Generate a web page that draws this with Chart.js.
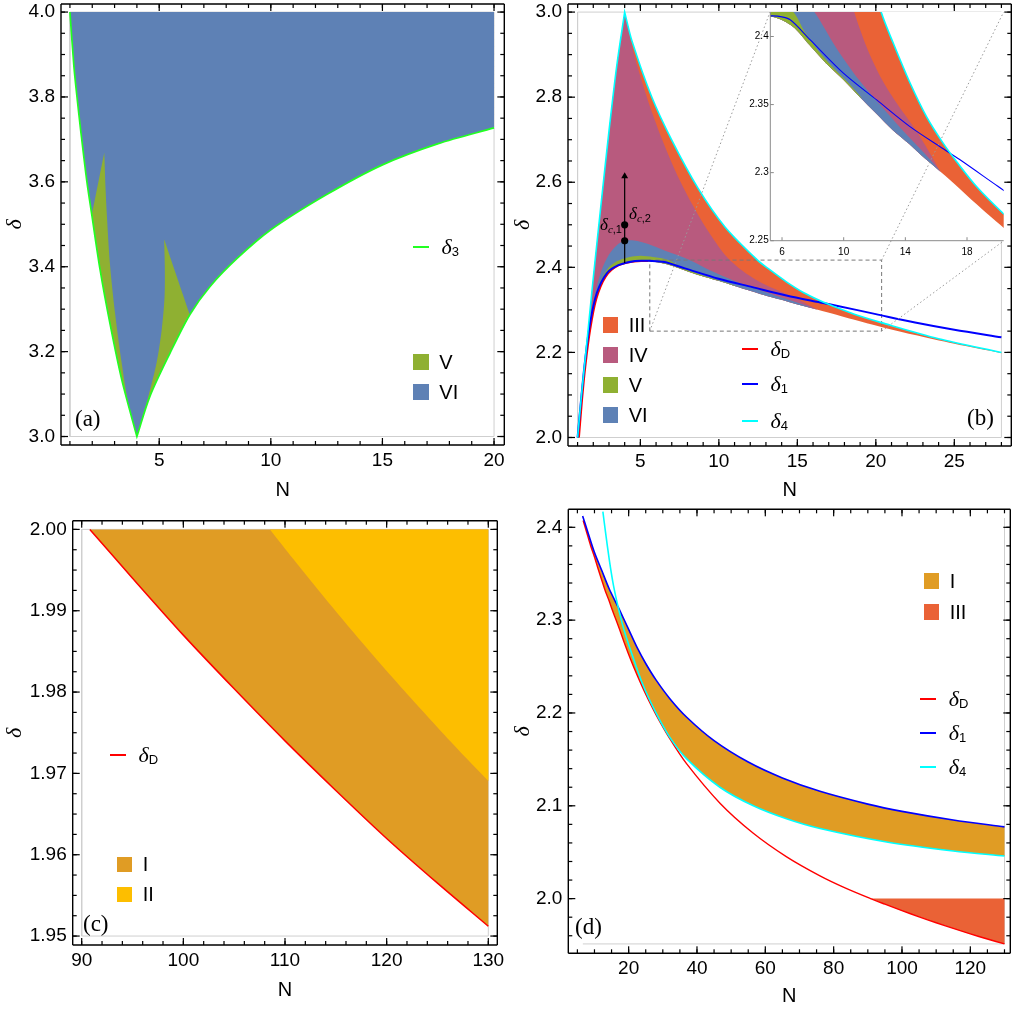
<!DOCTYPE html>
<html>
<head>
<meta charset="utf-8">
<script src="https://cdn.jsdelivr.net/npm/chart.js@4.4.0/dist/chart.umd.min.js"></script>
<style>
  body { margin: 0; background: #fff; }
  #page { position: relative; width: 1014px; height: 1011px; overflow: hidden; font-family: 'Liberation Sans', Arial, sans-serif; }
  canvas { position: absolute; }
  .tx, .dl, .pl, .dc { position: absolute; white-space: nowrap; line-height: 1; color: #000; }
  .tx { font-size: 20px; }
  .dl { font-size: 22px; }
  .dl i, .dc i { font-family: 'Liberation Serif', serif; font-style: italic; }
  .dl sub { font-size: 13px; vertical-align: -2px; }
  .dc { font-size: 17px; }
  .dc sub { font-size: 11px; vertical-align: -3px; }
  .pl { font-family: 'Liberation Serif', serif; font-size: 23px; }
  .sw { position: absolute; width: 15.5px; height: 15.5px; }
  .ln { position: absolute; width: 16px; height: 2px; }
</style>
</head>
<body>
<div id="page">
  <canvas id="chartA" width="507" height="505" style="left:0;top:0"></canvas>
  <canvas id="chartB" width="507" height="505" style="left:507px;top:0"></canvas>
  <canvas id="chartInset" width="272" height="262" style="left:740px;top:0"></canvas>
  <canvas id="chartGhost" width="507" height="505" style="left:507px;top:0"></canvas>
  <canvas id="chartC" width="507" height="506" style="left:0;top:505px"></canvas>
  <canvas id="chartD" width="507" height="506" style="left:507px;top:505px"></canvas>
</div>
<script>
// ---------- panel (a) ----------
const aAxisN = [0.6, 20.46]
const aAxisD = [2.98, 4.019]
const aRangeN = [1, 20]
const aRangeD = [3, 4]
const aTicksN = [5, 10, 15, 20]
const aTicksD = [3.0, 3.2, 3.4, 3.6, 3.8, 4.0]
const aD3LeftN = [1, 1.18, 1.33, 1.48, 1.75, 1.98, 2.35, 2.79, 3.32, 4]
const aD3LeftD = [4, 3.871, 3.793, 3.722, 3.604, 3.522, 3.393, 3.267, 3.134, 3]
const aD3RightN = [4, 4.58, 5.48, 6.37, 7.27, 8.5, 10, 12.5, 15, 17.5, 20]
const aD3RightD = [3, 3.094, 3.196, 3.287, 3.353, 3.42, 3.487, 3.57, 3.64, 3.69, 3.727]
const aV1N = [2.54, 2.6, 2.65, 2.79, 3.02, 3.32, 3.61, 3.91, 4]
const aV1D = [3.669, 3.58, 3.526, 3.408, 3.291, 3.173, 3.079, 3.016, 3]
const aV2LeftN = [5.22, 5.25, 5.24, 5.11, 4.88, 4.51, 4.21, 4]
const aV2LeftD = [3.465, 3.4, 3.33, 3.251, 3.173, 3.094, 3.039, 3]

// ---------- curves shared by (b), (c), (d) ----------
const dDN = [1.1, 1.3, 1.5, 1.8, 2.2, 2.8, 3.6, 4.6, 5.5, 6.69, 7.77, 8.85, 9.98, 11.01, 12.09, 13.17, 14.25, 15.33, 16.3, 17.49, 18.57, 20.3, 22.34, 25, 28, 32, 37, 46.73, 56.49, 66.24, 76, 83, 90.8, 95, 100, 105, 110, 115, 120, 125, 130]
const dDD = [2, 2.09, 2.165, 2.25, 2.325, 2.378, 2.404, 2.4135, 2.4142, 2.4074, 2.3939, 2.3804, 2.3682, 2.3559, 2.3436, 2.3314, 2.3211, 2.3098, 2.3005, 2.2886, 2.2773, 2.2603, 2.2419, 2.2201, 2.1982, 2.1726, 2.1451, 2.1028, 2.0704, 2.045, 2.0245, 2.0121, 2, 1.994, 1.987, 1.9804, 1.974, 1.9679, 1.962, 1.9565, 1.9512]
const d1N = [1, 1.26, 1.48, 1.79, 2.22, 2.86, 3.6, 4.66, 5.72, 6.53, 7.83, 9.98, 12.14, 14.3, 16.46, 17.5, 20, 22.5, 25, 28, 32, 37, 45, 55, 65, 76, 90, 100, 115, 130]
const d1D = [2, 2.103, 2.182, 2.268, 2.339, 2.386, 2.405, 2.415, 2.415, 2.4123, 2.3975, 2.3731, 2.3534, 2.3338, 2.3175, 2.3098, 2.29, 2.2703, 2.2533, 2.2356, 2.2157, 2.1954, 2.1702, 2.1471, 2.13, 2.1156, 2.1018, 2.094, 2.0847, 2.0773]
const d4LN = [1, 1.25, 1.5, 2, 2.5, 3, 3.5, 4]
const d4LD = [2, 2.1, 2.19, 2.375, 2.55, 2.72, 2.875, 3]
const d4RN = [4, 4.45, 5.72, 7, 8.69, 10.39, 12.46, 13.22, 14.3, 15.38, 16.46, 17.33, 18.63, 20.35, 24, 28, 32, 37, 46.7, 56.5, 66.2, 76, 95.5, 115, 130]
const d4RD = [3, 2.934, 2.801, 2.699, 2.585, 2.495, 2.417, 2.395, 2.366, 2.341, 2.3215, 2.308, 2.2896, 2.27, 2.232, 2.2, 2.174, 2.1505, 2.12, 2.1, 2.086, 2.0755, 2.061, 2.0513, 2.0459]

// ---------- panel (b) ----------
const bAxisN = [0.39, 28.63]
const bAxisD = [1.98, 3.019]
const bRangeN = [1, 28]
const bRangeD = [2, 3]
const bTicksN = [5, 10, 15, 20, 25]
const bTicksD = [2.0, 2.2, 2.4, 2.6, 2.8, 3.0]
const iiiInN = [4, 4.6, 5.5, 6.5, 7.5, 8.5, 9.5, 10.5, 11.5, 12.5, 13.5, 14.73, 15.5, 16.2]
const iiiInD = [3, 2.9, 2.79, 2.69, 2.605, 2.535, 2.475, 2.425, 2.392, 2.368, 2.35, 2.3304, 2.316, 2.302]
const viTopN = [1, 1.3, 1.6, 2, 2.5, 3, 3.5, 4, 4.6, 5.5, 6.5, 8.1, 9.5, 11, 12.5, 14, 15.3, 16.3]
const viTopD = [2, 2.11, 2.222, 2.32, 2.39, 2.43, 2.452, 2.4624, 2.463, 2.455, 2.44, 2.418, 2.392, 2.368, 2.348, 2.329, 2.3135, 2.3005]
const vTopN = [1, 1.3, 1.6, 2, 2.5, 3, 3.5, 4.2, 5, 5.8, 6.73, 7.5, 8.5, 9.5, 10.5, 11.2]
const vTopD = [2, 2.105, 2.218, 2.31, 2.37, 2.4, 2.414, 2.423, 2.427, 2.424, 2.418, 2.403, 2.3875, 2.375, 2.3635, 2.3545]
const bArrowN = [4, 4]
const bArrowD = [2.41, 2.615]
const bArrowHeadD = [2.614]
const bCritD = [2.4624, 2.5]
const bRectN = [5.6, 20.37]
const bRectD = [2.25, 2.417]
const bInsetN = [13.26, 28.14]
const bInsetD = [2.462, 3.0]
const insetAxisN = [5.24, 20.38]
const insetAxisD = [2.25, 2.418]
const insetTicksN = [6, 10, 14, 18]
const insetTicksD = [2.25, 2.3, 2.35, 2.4]

// ---------- panel (c) ----------
const cAxisN = [89.115, 130.885]
const cAxisD = [1.9489, 2.00107]
const cRangeN = [90, 130]
const cRangeD = [1.95, 2.0]
const cTicksN = [90, 100, 110, 120, 130]
const cTicksD = [1.95, 1.96, 1.97, 1.98, 1.99, 2.0]
const cIIN = [108.52, 110.82, 113.11, 115.57, 118.03, 120.49, 122.95, 125.41, 127.87, 130]
const cIID = [2, 1.99636, 1.99281, 1.98909, 1.98546, 1.98191, 1.97846, 1.9751, 1.97183, 1.96907]

// ---------- panel (d) ----------
const dAxisN = [2.34, 131.7]
const dAxisD = [1.9411, 2.4194]
const dRangeN = [6.6, 130]
const dRangeD = [1.9512, 2.41]
const dTicksN = [20, 40, 60, 80, 100, 120]
const dTicksD = [2.0, 2.1, 2.2, 2.3, 2.4]
const dIIITop = [2.0]
const dISwitchN = [32]

const colIII = '#EA6236', colIV = '#B85A7E', colV = '#8FB032', colVI = '#5E81B5'
const colI = '#E09C24', colII = '#FDBE00'
const colRed = '#FF0000', colBlue = '#0000FF', colCyan = '#00FFFF', colGreen = '#22FF22'
const colRange = '#CFCFCF'

Chart.defaults.font.family = "'Liberation Sans', Arial, sans-serif"
Chart.defaults.font.size = 19
Chart.defaults.color = '#000'

// point helpers
const pts = (xs, ys) => xs.map((x, i) => ({x, y: ys[i]}))
const seg = (xs, ys, lo, hi) => pts(xs, ys).filter(p => p.x >= lo - 1e-9 && p.x <= hi + 1e-9)
const chain = (...parts) => {
    let out = []
    parts.forEach(p => { if (p.length) out.push(p[0], ...p, p[p.length - 1]) })
    return out
}
const poly = (...parts) => {
    let out = chain(...parts)
    out.push(out[0], out[0])
    return out
}
const rect = (xs, ys) => pts([xs[0], xs[1], xs[1], xs[0], xs[0]], [ys[0], ys[0], ys[1], ys[1], ys[0]])
const steps = (lo, hi, step) => {
    let out = []
    for (let k = Math.ceil(lo / step - 1e-9); k * step <= hi + 1e-9; k++) out.push(+(k * step).toFixed(6))
    return out
}

// dataset helpers
const area = (data, color) => ({data, backgroundColor: color, borderColor: 'rgba(0,0,0,0)', borderWidth: 0, fill: 'shape', pointRadius: 0, tension: 0.3})
const curve = (data, color, width, extra) => Object.assign({data, borderColor: color, borderWidth: width, fill: false, pointRadius: 0, tension: 0.3}, extra || {})
const dots = (data, style, radius) => ({data, showLine: false, pointStyle: style, pointRadius: radius, pointBackgroundColor: '#000', pointBorderWidth: 0, borderColor: '#000'})

// bottom -> top, later ones drawn above
const stack = list => list.map((d, i) => Object.assign({xAxisID: 'x', yAxisID: 'y', order: list.length - i}, d))

// axes: labels and titles only, frame and inward ticks come from the frame plugin
const fixSize = (w, h) => scale => {
    if (w !== null) scale.width = w
    if (h !== null) scale.height = h
    scale.paddingLeft = scale.paddingRight = scale.paddingTop = scale.paddingBottom = 0
}
const axis = (position, range, values, o) => ({
    type: 'linear', position, min: range[0], max: range[1],
    grid: {display: false, drawTicks: false},
    border: {display: false},
    ticks: {autoSkip: false, maxRotation: 0, padding: o.pad, font: {size: o.fs || 19},
        color: o.ink || '#000', callback: o.fmt},
    title: o.title ? {display: true, text: o.title, color: o.ink || '#000',
        padding: {top: o.titlePad, bottom: o.titlePad}, font: o.titleFont} : {display: false},
    afterBuildTicks: s => { s.ticks = values.map(v => ({value: v})) },
    afterFit: position === 'bottom' ? fixSize(null, o.size) : fixSize(o.size, null)
})
const fontN = {family: "'Liberation Sans', Arial, sans-serif", size: 20}
const fontDelta = {family: "'Liberation Serif', serif", style: 'italic', size: 22}

const frameScales = p => {
    const ink = p.ghost ? 'rgba(0,0,0,0)' : '#000'
    return {
        x: axis('bottom', p.axN, p.ticksN, {ink, size: p.bottomH, pad: 4.1, fmt: v => String(v),
            title: 'N', titlePad: p.padN, titleFont: fontN}),
        y: axis('left', p.axD, p.ticksD, {ink, size: p.leftW, pad: 6, fmt: v => v.toFixed(p.decD),
            title: 'δ', titlePad: p.padD, titleFont: fontDelta})
    }
}

// frame box with inward major/minor ticks (filled rectangles) on the chosen sides
const framePlugin = f => ({
    id: 'frameTicks',
    afterDraw: chart => {
        const {ctx, chartArea: a, scales} = chart
        const sx = scales.x, sy = scales.y
        const on = side => f.sides.indexOf(side) >= 0
        const w = f.tickWidth
        const mark = (vals, len, horiz) => {
            for (const v of vals) {
                if (horiz) {
                    const px = sx.getPixelForValue(+v) - w / 2
                    if (on('bottom')) ctx.fillRect(px, a.bottom - len, w, len)
                    if (on('top')) ctx.fillRect(px, a.top, w, len)
                } else {
                    const py = sy.getPixelForValue(+v) - w / 2
                    if (on('left')) ctx.fillRect(a.left, py, len, w)
                    if (on('right')) ctx.fillRect(a.right - len, py, len, w)
                }
            }
        }
        ctx.save()
        ctx.setLineDash([])
        ctx.globalAlpha = 1
        ctx.fillStyle = f.color
        ctx.strokeStyle = f.color
        if (f.minorLen > 0) {
            mark(f.minorN, f.minorLen, true)
            mark(f.minorD, f.minorLen, false)
        }
        mark(f.majorN, f.majorLen, true)
        mark(f.majorD, f.majorLen, false)
        ctx.lineWidth = f.width
        ctx.beginPath()
        if (on('top')) { ctx.moveTo(a.left, a.top); ctx.lineTo(a.right, a.top) }
        if (on('right')) { ctx.moveTo(a.right, a.top); ctx.lineTo(a.right, a.bottom) }
        if (on('bottom')) { ctx.moveTo(a.left, a.bottom); ctx.lineTo(a.right, a.bottom) }
        if (on('left')) { ctx.moveTo(a.left, a.top); ctx.lineTo(a.left, a.bottom) }
        ctx.stroke()
        ctx.restore()
    }
})
const panelFrame = p => framePlugin({
    color: '#000', width: 1.4, tickWidth: 1.2, sides: ['top', 'right', 'bottom', 'left'], majorLen: 7, minorLen: 4,
    majorN: p.ticksN, majorD: p.ticksD,
    minorN: steps(p.axN[0], p.axN[1], p.stepN), minorD: steps(p.axD[0], p.axD[1], p.stepD)
})

const makeChart = (id, datasets, scales, padding, plugins) => new Chart(document.getElementById(id), {
    type: 'line',
    data: {datasets},
    options: {
        responsive: false, animation: false, events: [],
        layout: {autoPadding: false, padding},
        plugins: {legend: {display: false}, tooltip: {enabled: false}},
        elements: {line: {capBezierPoints: false}},
        scales
    },
    plugins: plugins || []
})

// ---------- (a) ----------
const panelA = {axN: aAxisN, axD: aAxisD, ticksN: aTicksN, ticksD: aTicksD, stepN: 1, stepD: 0.05,
    decD: 1, leftW: 61, bottomH: 60, padN: 3, padD: 2}
const aLeft = pts(aD3LeftN, aD3LeftD)
const aRight = pts(aD3RightN, aD3RightD)
makeChart('chartA', stack([
    curve(rect(aRangeN, aRangeD), colRange, 1, {tension: 0}),
    area(poly(aLeft, aRight, [{x: aRangeN[1], y: aRangeD[1]}, {x: aRangeN[0], y: aRangeD[1]}]), colVI),
    area(poly(pts(aV1N, aV1D), seg(aD3LeftN, aD3LeftD, 1.98, 4).reverse()), colV),
    area(poly(seg(aD3RightN, aD3RightD, 4, 6.37).reverse(), pts(aV2LeftN, aV2LeftD).reverse()), colV),
    curve(chain(aLeft, aRight), colGreen, 1.7)
]), frameScales(panelA), {left: 0, top: 4, right: 2.7, bottom: 0}, [panelFrame(panelA)])

// ---------- (b) ----------
const panelB = {axN: bAxisN, axD: bAxisD, ticksN: bTicksN, ticksD: bTicksD, stepN: 1, stepD: 0.05,
    decD: 1, leftW: 61, bottomH: 59, padN: 3, padD: 3}
const regionsB = () => [
    area(poly(pts(d4LN, d4LD), seg(d4RN, d4RD, 4, 28), seg(dDN, dDD, 1, 28).reverse()), colIII),
    area(poly(pts(d4LN, d4LD), pts(iiiInN, iiiInD), seg(dDN, dDD, 1, 16.3).reverse()), colIV),
    area(poly(pts(viTopN, viTopD), seg(dDN, dDD, 1, 16.3).reverse()), colVI),
    area(poly(pts(vTopN, vTopD), seg(dDN, dDD, 1, 11.01).reverse()), colV)
]
const padB = {left: 0, top: 4, right: 2.7, bottom: 0}
makeChart('chartB', stack([
    curve(rect(bRangeN, bRangeD), colRange, 1, {tension: 0}),
    ...regionsB(),
    curve(rect(bRectN, bRectD), '#777', 1, {tension: 0, borderDash: [4, 3]}),
    curve(seg(dDN, dDD, 1, 5.5), colRed, 1.6),
    curve(seg(d1N, d1D, 1, 28), colBlue, 2),
    curve(chain(pts(d4LN, d4LD), seg(d4RN, d4RD, 4, 28)), colCyan, 1.6),
    curve(pts(bArrowN, bArrowD), '#000', 1.2, {tension: 0}),
    dots(pts([bArrowN[0]], bArrowHeadD), 'triangle', 4),
    dots(pts(bArrowN, bCritD), 'circle', 3.6)
]), frameScales(panelB), padB, [panelFrame(panelB)])

// inset of (b)
const whiteArea = {
    id: 'whiteArea',
    beforeDraw: chart => {
        const {ctx, chartArea: a} = chart
        ctx.save()
        ctx.fillStyle = '#fff'
        ctx.fillRect(a.left, a.top, a.right - a.left, a.bottom - a.top)
        ctx.restore()
    }
}
makeChart('chartInset', stack([
    ...regionsB(),
    curve(seg(d1N, d1D, 4, 28), colBlue, 1.1),
    curve(seg(d4RN, d4RD, 4, 28), colCyan, 1.6)
]), {
    x: axis('bottom', insetAxisN, insetTicksN, {size: 21.3, pad: 5.8, fs: 10, fmt: v => String(v)}),
    y: axis('left', insetAxisD, insetTicksD, {size: 30.3, pad: 1.6, fs: 10, fmt: v => String(+v.toFixed(2))})
}, {left: 0, top: 12, right: 8.3, bottom: 0}, [whiteArea, framePlugin({
    color: '#8a8a8a', width: 1, tickWidth: 1, sides: ['bottom', 'left'], majorLen: 3.5, minorLen: 0,
    majorN: insetTicksN, majorD: insetTicksD, minorN: [], minorD: []
})])

// zoom guide lines drawn over the inset
makeChart('chartGhost', stack([
    curve(pts([bRectN[0], bInsetN[0]], [bRectD[0], bInsetD[1]]), '#999', 1, {tension: 0, borderDash: [1.5, 2.5]}),
    curve(pts([bRectN[1], bInsetN[1]], [bRectD[1], bInsetD[1]]), '#999', 1, {tension: 0, borderDash: [1.5, 2.5]}),
    curve(pts([bRectN[1], bInsetN[1]], [bRectD[0], bInsetD[0]]), '#999', 1, {tension: 0, borderDash: [1.5, 2.5]})
]), frameScales(Object.assign({ghost: true}, panelB)), padB)

// ---------- (c) ----------
const panelC = {axN: cAxisN, axD: cAxisD, ticksN: cTicksN, ticksD: cTicksD, stepN: 2, stepD: 0.0025,
    decD: 2, leftW: 72.7, bottomH: 66, padN: 9, padD: 2}
makeChart('chartC', stack([
    curve(rect(cRangeN, cRangeD), colRange, 1, {tension: 0}),
    area(poly(seg(dDN, dDD, 90.8, 130), [{x: cRangeN[1], y: cRangeD[1]}]), colI),
    area(poly(pts(cIIN, cIID), [{x: cRangeN[1], y: cRangeD[1]}]), colII),
    curve(seg(dDN, dDD, 90.8, 130), colRed, 1.5)
]), frameScales(panelC), {left: 0, top: 15.7, right: 9.7, bottom: 0}, [panelFrame(panelC)])

// ---------- (d) ----------
const panelD = {axN: dAxisN, axD: dAxisD, ticksN: dTicksN, ticksD: dTicksD, stepN: 5, stepD: 0.02,
    decD: 1, leftW: 61.3, bottomH: 57.7, padN: 2.3, padD: 3}
makeChart('chartD', stack([
    curve(pts([dRangeN[1], dRangeN[1], dRangeN[0]], [dRangeD[1], dRangeD[0], dRangeD[0]]), colRange, 1, {tension: 0}),
    area(poly(seg(d1N, d1D, 6.5, 130), seg(d4RN, d4RD, dISwitchN[0], 130).reverse(),
        seg(dDN, dDD, 6.6, dISwitchN[0]).reverse()), colI),
    area(poly(seg(dDN, dDD, 90.8, 130), [{x: dRangeN[1], y: dIIITop[0]}]), colIII),
    curve(seg(dDN, dDD, 6.6, 130), colRed, 1.4),
    curve(seg(d1N, d1D, 6.5, 130), colBlue, 1.6),
    curve(seg(d4RN, d4RD, 12.4, 130), colCyan, 1.6)
]), frameScales(panelD), {left: 0, top: 4.3, right: 3.7, bottom: 0}, [panelFrame(panelD)])

// ---------- legends and labels ----------
const page = document.querySelector('#page')
const addEl = (cls, x, y, html, css) => {
    let el = document.createElement('div')
    el.className = cls
    el.style.left = `${x}px`
    el.style.top = `${y}px`
    if (html) el.innerHTML = html
    if (css) Object.assign(el.style, css)
    page.append(el)
}
const swatch = (x, y, color, text) => {
    addEl('sw', x, y, '', {background: color})
    addEl('tx', x + 26, y + 7.75 - 10, text)
}
const keyLine = (x, y, color, sub) => {
    addEl('ln', Math.round(x), Math.round(y - 1), '', {background: color})
    addEl('dl', x + 28.5, y - 11, `<i>δ</i><sub>${sub}</sub>`)
}

keyLine(413, 247.3, colGreen, '3')
swatch(413.3, 354.3, colV, 'V')
swatch(413.3, 384.3, colVI, 'VI')
addEl('pl', 75, 418 - 11.5, '(a)')

swatch(602.7, 317, colIII, 'III')
swatch(602.7, 347, colIV, 'IV')
swatch(602.7, 377, colV, 'V')
swatch(602.7, 407, colVI, 'VI')
keyLine(742, 349.3, colRed, 'D')
keyLine(742, 384, colBlue, '1')
keyLine(742, 420.7, colCyan, '4')
addEl('pl', 967, 417.5 - 11.5, '(b)')
addEl('dc', 600, 224 - 8.5, '<i>δ</i><sub><i>c</i>,1</sub>')
addEl('dc', 629, 213.5 - 8.5, '<i>δ</i><sub><i>c</i>,2</sub>')

keyLine(110, 755, colRed, 'D')
swatch(116.7, 856.7, colI, 'I')
swatch(116.7, 886.7, colII, 'II')
addEl('pl', 83, 923 - 11.5, '(c)')

swatch(923.7, 573.3, colI, 'I')
swatch(923.7, 604.3, colIII, 'III')
keyLine(920.3, 699, colRed, 'D')
keyLine(920.3, 733.3, colBlue, '1')
keyLine(920.3, 766.7, colCyan, '4')
addEl('pl', 575, 926 - 11.5, '(d)')
</script>
</body>
</html>
